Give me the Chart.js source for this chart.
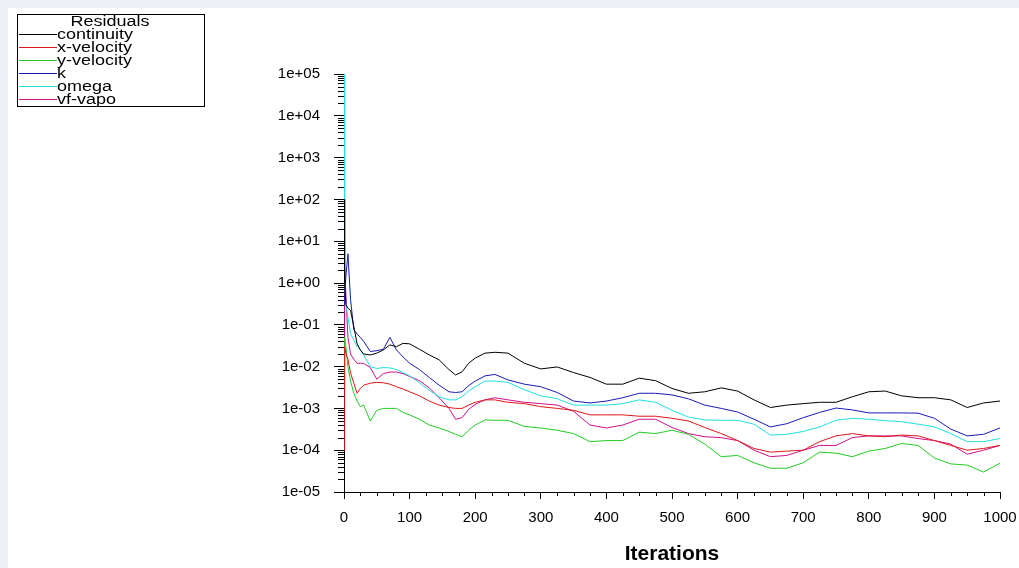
<!DOCTYPE html>
<html>
<head>
<meta charset="utf-8">
<script src="https://cdn.jsdelivr.net/npm/chart.js@4.4.1/dist/chart.umd.min.js"></script>
<style>
  html, body { margin: 0; padding: 0; background: #fff; }
  canvas { display: block; }
</style>
</head>
<body>
<canvas id="residuals" width="1019" height="568"></canvas>
<script>
// iteration numbers the residuals were read at
const iterations = [0, 1, 3, 6, 10, 15, 20, 25, 30, 40, 50, 60, 70, 80, 90, 100, 115, 130, 145, 160, 170, 180, 190, 200,
  215, 230, 250, 275, 300, 325, 350, 375, 400, 425, 450, 475, 500, 525, 550, 575, 600, 625, 650, 675, 700,
  725, 750, 775, 800, 825, 850, 875, 900, 925, 950, 975, 1000];

const continuity = [1e2, 1.0, 0.3, 0.25, 0.22, 0.09, 0.035, 0.025, 0.02, 0.019, 0.021, 0.025, 0.033, 0.03, 0.036, 0.035,
  0.026, 0.019, 0.0145, 0.0085, 0.0063, 0.0075, 0.012, 0.016, 0.021, 0.022, 0.021, 0.012, 0.0088, 0.0098, 0.0072,
  0.0055, 0.0038, 0.0038, 0.0053, 0.0046, 0.003, 0.0023, 0.0025, 0.0031, 0.0026, 0.0016, 0.00105, 0.0012, 0.0013,
  0.0014, 0.0014, 0.0019, 0.0025, 0.0026, 0.002, 0.0018, 0.0018, 0.0016, 0.00105, 0.00135, 0.0015];

const xVelocity = [1e-4, 0.03, 0.02, 0.015, 0.007, 0.004, 0.0023, 0.003, 0.0036, 0.004, 0.0042, 0.0041, 0.0038, 0.0033,
  0.0029, 0.0025, 0.002, 0.0015, 0.0012, 0.00105, 0.001, 0.001, 0.0012, 0.0014, 0.0016, 0.0016, 0.0014, 0.0013,
  0.0011, 0.001, 0.0009, 0.0007, 0.0007, 0.0007, 0.00065, 0.00065, 0.00058, 0.0005, 0.00035, 0.00025, 0.00017,
  0.00011, 9e-5, 9.5e-5, 1e-4, 0.00016, 0.00022, 0.00025, 0.00022, 0.00021, 0.00023, 0.00022, 0.00017, 0.00013,
  1e-4, 0.00011, 0.00013];

const yVelocity = [0.003, 0.05, 0.03, 0.01, 0.0045, 0.0023, 0.0015, 0.0011, 0.0012, 0.0005, 0.0009, 0.001, 0.001, 0.001,
  0.0008, 0.0007, 0.00055, 0.0004, 0.00034, 0.00028, 0.00024, 0.00021, 0.0003, 0.0004, 0.00053, 0.00052, 0.00052,
  0.00037, 0.00034, 0.0003, 0.00025, 0.00016, 0.00017, 0.00017, 0.00027, 0.00025, 0.0003, 0.00024, 0.00014, 7e-5,
  7.5e-5, 5e-5, 3.7e-5, 3.7e-5, 5e-5, 9e-5, 8.5e-5, 7e-5, 9.5e-5, 1.1e-4, 1.45e-4, 1.3e-4, 6.5e-5, 4.7e-5, 4.4e-5,
  3e-5, 4.9e-5];

const kResidual = [0.3, 0.5, 1.5, 5, 0.4, 0.076, 0.06, 0.05, 0.04, 0.023, 0.024, 0.026, 0.05, 0.025, 0.017, 0.012,
  0.0085, 0.0055, 0.0036, 0.0025, 0.0024, 0.0025, 0.0035, 0.0045, 0.006, 0.0065, 0.0048, 0.0038, 0.0033, 0.0024,
  0.0015, 0.00135, 0.0015, 0.0018, 0.0023, 0.0023, 0.0021, 0.0017, 0.0012, 0.001, 0.00082, 0.00055, 0.00036,
  0.00043, 0.0006, 0.0008, 0.00102, 0.00092, 0.00078, 0.00078, 0.00078, 0.00077, 0.00058, 0.00032, 0.00022,
  0.00024, 0.00034];

const omega = [1e5, 1.0, 0.3, 0.15, 0.06, 0.043, 0.03, 0.025, 0.019, 0.01, 0.009, 0.0095, 0.0093, 0.0085, 0.0072, 0.006,
  0.0041, 0.0027, 0.0019, 0.0016, 0.0016, 0.0019, 0.0026, 0.0033, 0.0045, 0.0045, 0.0042, 0.0028, 0.002, 0.0017,
  0.0012, 0.0012, 0.0012, 0.0013, 0.0016, 0.0014, 0.0009, 0.00062, 0.00053, 0.00052, 0.00052, 0.00042, 0.00023,
  0.00024, 0.00028, 0.00036, 0.00052, 0.00058, 0.00055, 0.00051, 0.00048, 0.00042, 0.00036, 0.00025, 0.00016,
  0.00016, 0.00019];

const vfVapo = [0.01, 2.0, 0.5, 0.05, 0.02, 0.015, 0.012, 0.012, 0.012, 0.0095, 0.005, 0.0068, 0.0074, 0.0074, 0.0068,
  0.0058, 0.0046, 0.0031, 0.0018, 0.001, 0.00055, 0.0006, 0.00095, 0.00125, 0.0016, 0.0018, 0.0016, 0.0014, 0.0013,
  0.0012, 0.00085, 0.0004, 0.00034, 0.0004, 0.00055, 0.00055, 0.00035, 0.00025, 0.00021, 0.0002, 0.00017, 0.0001,
  7e-5, 7.5e-5, 1e-4, 0.00013, 0.00013, 0.0002, 0.00022, 0.00022, 0.00022, 0.00019, 0.00017, 0.00014, 8e-5, 1e-4,
  0.00013];

const seriesNames = ['continuity', 'x-velocity', 'y-velocity', 'k', 'omega', 'vf-vapo'];
const seriesColors = ['#000000', '#e01818', '#22cc22', '#1a1ab4', '#22e0e0', '#d0108c'];
const seriesData = [continuity, xVelocity, yVelocity, kResidual, omega, vfVapo];

const yTickValues = [1e-5, 1e-4, 1e-3, 1e-2, 1e-1, 1e0, 1e1, 1e2, 1e3, 1e4, 1e5];
const xTickStep = 100;

function expLabel(v) {
  const e = Math.round(Math.log10(v));
  return '1e' + (e < 0 ? '-' : '+') + String(Math.abs(e)).padStart(2, '0');
}

// light frame round the white drawing area
const background = {
  id: 'background',
  beforeDraw(chart) {
    const ctx = chart.ctx;
    ctx.save();
    ctx.fillStyle = '#edf0f6';
    ctx.fillRect(0, 0, chart.width, chart.height);
    ctx.fillStyle = '#ffffff';
    ctx.fillRect(8, 8, chart.width - 8, chart.height - 8);
    ctx.restore();
  }
};

// shorter minor ticks on both axes
const minorTicks = {
  id: 'minorTicks',
  afterDraw(chart) {
    const { ctx, chartArea } = chart;
    const x = chart.scales.x, y = chart.scales.y;
    ctx.save();
    ctx.strokeStyle = '#000';
    ctx.lineWidth = 1;
    ctx.beginPath();
    for (let d = -5; d < 5; d++) {
      for (let m = 2; m <= 9; m++) {
        const py = Math.round(y.getPixelForValue(m * Math.pow(10, d))) + 0.5;
        ctx.moveTo(chartArea.left - 6, py);
        ctx.lineTo(chartArea.left, py);
      }
    }
    for (let v = 25; v < 1000; v += 25) {
      if (v % 100 === 0) continue;
      const px = Math.round(x.getPixelForValue(v)) + 0.5;
      ctx.moveTo(px, chartArea.bottom);
      ctx.lineTo(px, chartArea.bottom + 4);
    }
    ctx.stroke();
    ctx.restore();
  }
};

// boxed legend in the top left corner
const residualLegend = {
  id: 'residualLegend',
  afterDraw(chart) {
    const ctx = chart.ctx;
    const bx = 17, by = 14, bw = 187, bh = 92;
    ctx.save();
    ctx.fillStyle = '#fff';
    ctx.fillRect(bx, by, bw, bh);
    ctx.strokeStyle = '#000';
    ctx.lineWidth = 1;
    ctx.strokeRect(bx + 0.5, by + 0.5, bw, bh);
    ctx.beginPath();
    ctx.rect(bx + 1, by + 1, bw - 1, bh - 1);
    ctx.clip();

    ctx.font = '18px "Liberation Sans", Arial, sans-serif';
    ctx.textBaseline = 'middle';
    ctx.fillStyle = '#000';
    ctx.save();
    ctx.translate(110, 22);
    ctx.scale(1, 0.85);
    ctx.textAlign = 'center';
    ctx.fillText('Residuals', 0, 0);
    ctx.restore();

    chart.data.datasets.forEach((ds, i) => {
      const ry = Math.round(34 + i * 12.9) + 0.5;
      ctx.strokeStyle = ds.borderColor;
      ctx.beginPath();
      ctx.moveTo(19, ry);
      ctx.lineTo(57, ry);
      ctx.stroke();
      ctx.save();
      ctx.translate(57, ry);
      ctx.scale(1, 0.85);
      ctx.textAlign = 'left';
      ctx.fillStyle = '#000';
      ctx.fillText(ds.label, 0, 0);
      ctx.restore();
    });
    ctx.restore();
  }
};

const datasets = seriesNames.map((name, i) => ({
  label: name,
  data: iterations.map((it, j) => ({ x: it, y: seriesData[i][j] })),
  borderColor: seriesColors[i],
  backgroundColor: seriesColors[i],
  borderWidth: 1,
  pointRadius: 0,
  tension: 0,
  fill: false
}));

new Chart(document.getElementById('residuals'), {
  type: 'line',
  data: { datasets: datasets },
  plugins: [background, minorTicks, residualLegend],
  options: {
    responsive: false,
    animation: false,
    layout: { padding: { top: 74, right: 19, left: 0, bottom: 0 } },
    plugins: {
      legend: { display: false },
      tooltip: { enabled: false }
    },
    scales: {
      x: {
        type: 'linear',
        min: 0,
        max: 1000,
        afterFit: s => { s.height = 76; s.paddingLeft = 0; s.paddingRight = 0; },
        ticks: {
          stepSize: xTickStep,
          color: '#000',
          padding: 10,
          maxRotation: 0,
          font: { family: '"Liberation Sans", Arial, sans-serif', size: 15 },
          callback: v => String(v)
        },
        grid: { display: true, drawOnChartArea: false, tickLength: 7, tickColor: '#000' },
        border: { color: '#000', width: 1 },
        title: {
          display: true,
          text: 'Iterations',
          color: '#000',
          font: { family: '"Liberation Sans", Arial, sans-serif', size: 21, weight: 'bold' },
          padding: { top: 0, bottom: 1 }
        }
      },
      y: {
        type: 'logarithmic',
        min: 1e-5,
        max: 1e5,
        afterFit: s => { s.width = 344; s.paddingTop = 0; s.paddingBottom = 0; },
        afterBuildTicks: s => { s.ticks = yTickValues.map(v => ({ value: v })); },
        ticks: {
          color: '#000',
          padding: 14,
          autoSkip: false,
          font: { family: '"Liberation Sans", Arial, sans-serif', size: 15 },
          callback: v => expLabel(v)
        },
        grid: { display: true, drawOnChartArea: false, tickLength: 10, tickColor: '#000' },
        border: { color: '#000', width: 1 }
      }
    }
  }
});
</script>
</body>
</html>
